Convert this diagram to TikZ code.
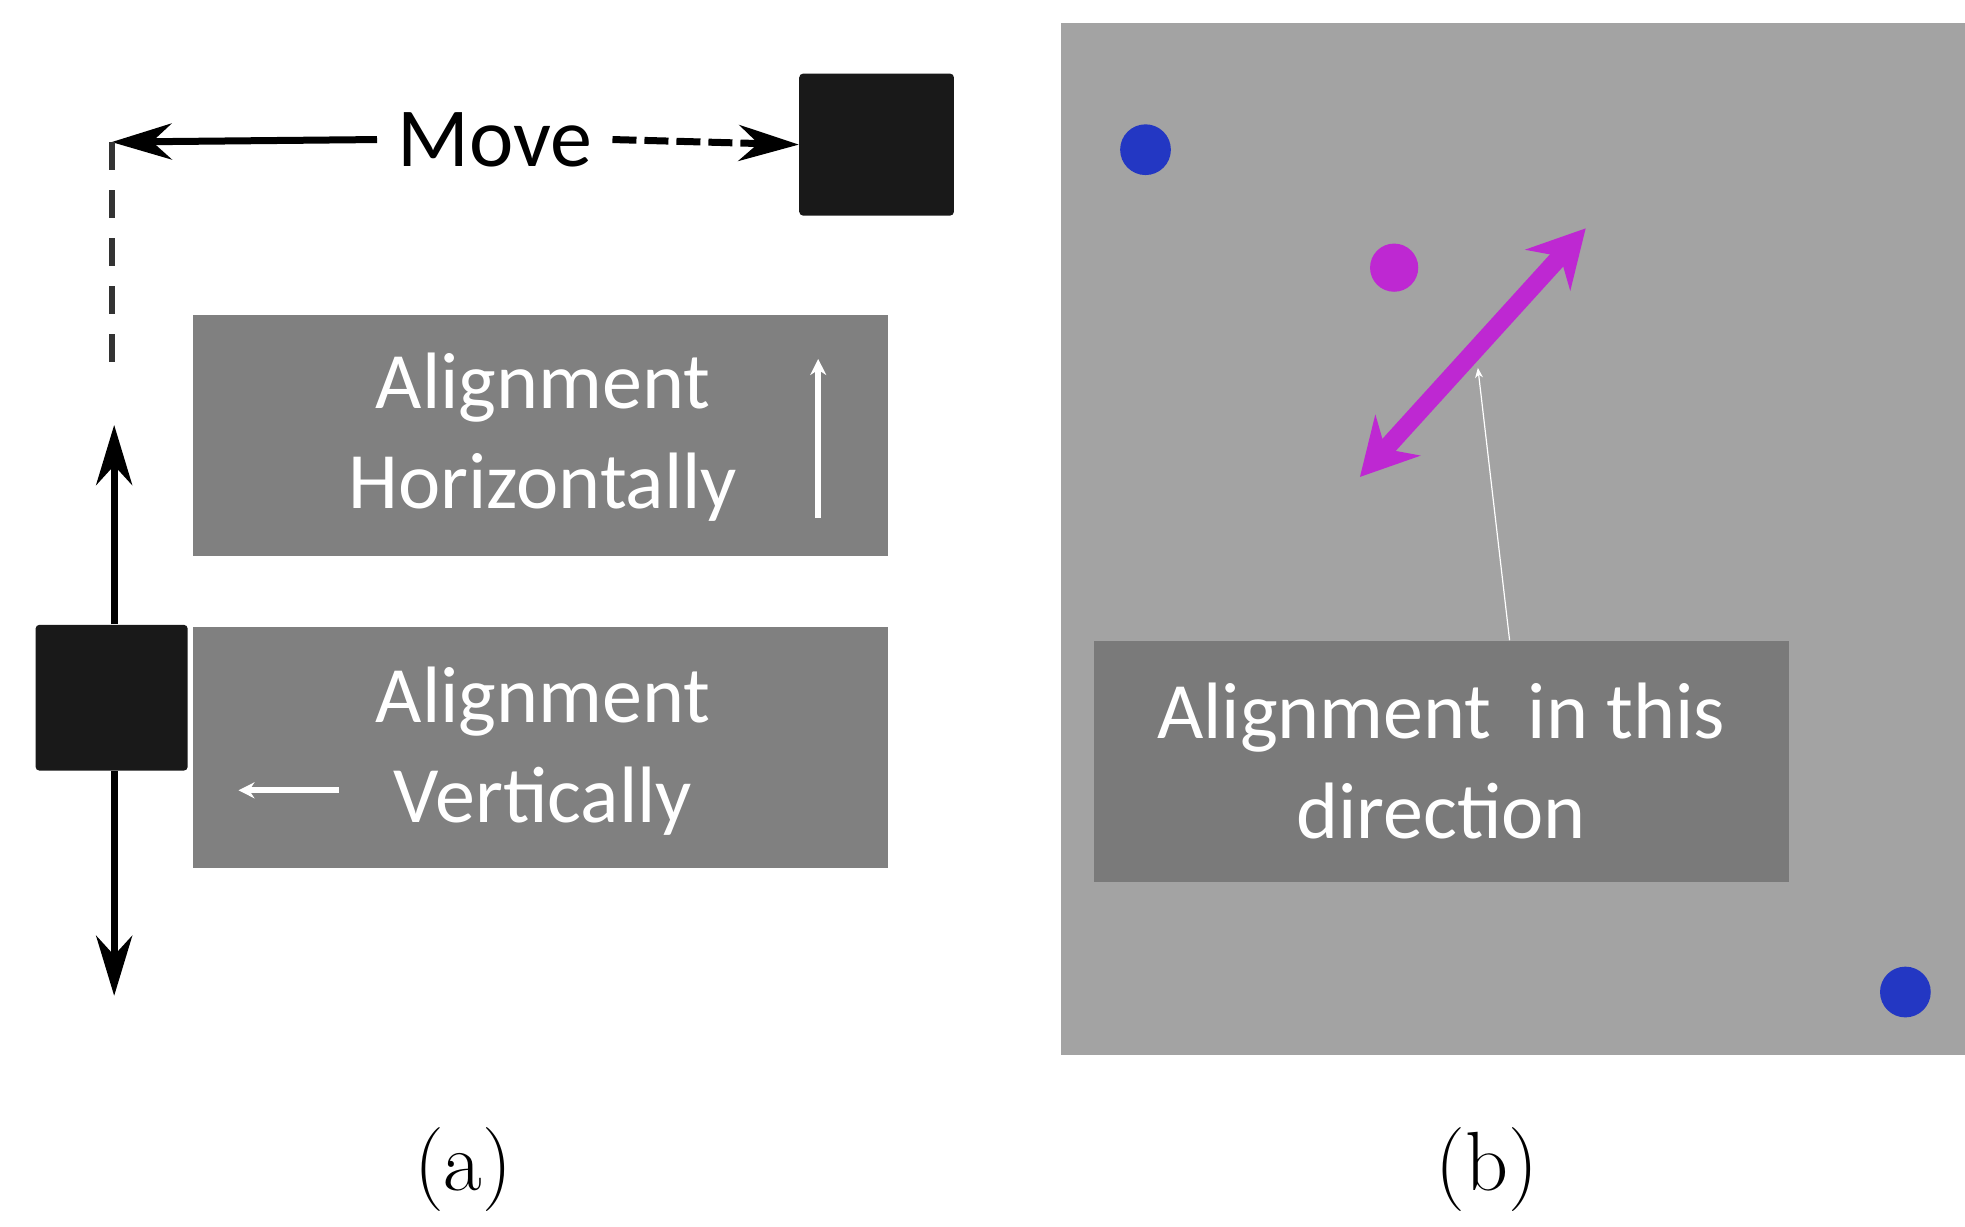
\documentclass[tikz,border=0pt]{standalone}
\usepackage{fontspec}
\setmainfont{Latin Modern Roman}
\newfontfamily\sansf{Carlito}
\usetikzlibrary{arrows.meta}
\definecolor{mag}{RGB}{190,40,210}
\definecolor{dotb}{RGB}{35,55,195}
\begin{document}
\begin{tikzpicture}[x=0.6343pt,y=-0.6343pt,
  blk/.style={fill=black!90,rounded corners=2pt},
  gbox/.style={fill=black!50,draw=none},
  lbl/.style={text=white,font=\sansf\fontsize{40}{50}\selectfont,align=center},
  barr/.style={line width=3.5pt,-{Stealth[length=30pt,width=18pt]}},
  warr/.style={white,line width=3pt,-{Stealth[length=8pt,width=8pt]}}]
\useasboundingbox (0,0) rectangle (1549,967);
\fill[white] (0,0) rectangle (1549,967);
% left panel
\node[blk,minimum width=122*0.6343pt,minimum height=112*0.6343pt] (sq1) at (691,114) {};
\node[blk,minimum width=120*0.6343pt,minimum height=115*0.6343pt] (sq2) at (88,550) {};
\node[font=\sansf\fontsize{42}{50}\selectfont,inner sep=10pt] (move) at (390,110) {Move};
\coordinate (lt) at (88,112);
\coordinate (up) at (90,335);
\coordinate (dn) at (90,785);
\draw[barr] (move.west) -- (lt);
\draw[barr,dash pattern=on 12pt off 4pt] (move.east) -- (sq1.west);
\draw[black!80,line width=3pt,dash pattern=on 14pt off 10pt] (lt) -- (88,300);
\draw[barr] (sq2.north-|up) -- (up);
\draw[barr] (sq2.south-|dn) -- (dn);
\node[gbox,minimum width=548*0.6343pt,minimum height=190*0.6343pt] (b1) at (426,343) {};
\node[lbl] (t1) at (428,345) {Alignment\\Horizontally};
\coordinate (h1) at (645,283); \coordinate (h0) at (645,408);
\draw[warr] (h0) -- (h1);
\node[gbox,minimum width=548*0.6343pt,minimum height=190*0.6343pt] (b2) at (426,589) {};
\node[lbl] (t2) at (428,592) {Alignment\\Vertically};
\coordinate (v0) at (267,623); \coordinate (v1) at (188,623);
\draw[warr] (v0) -- (v1);
% right panel
\fill[black!36] (836,18) rectangle (1549,832);
\fill[dotb] (903,118) circle (20);
\fill[dotb] (1502,782) circle (20);
\fill[mag] (1099,211) circle (19);
\coordinate (m0) at (1072,376); \coordinate (m1) at (1250,180);
\draw[mag,line width=9pt,{Stealth[length=28pt,width=30pt]}-{Stealth[length=28pt,width=30pt]}] (m0) -- (m1);
\node[gbox,fill=black!52,minimum width=548*0.6343pt,minimum height=190*0.6343pt] (b3) at (1136,600) {};
\node[lbl] (t3) at (1136,600) {Alignment\ \ in this\\direction};
\coordinate (p1) at (1165,290);
\draw[white,line width=0.6pt,-{Stealth[length=5pt,width=4pt]}] (b3.north-|1190,0) -- (p1);
% captions
\node[font=\fontsize{42}{50}\selectfont] (ca) at (365,922) {(a)};
\node[font=\fontsize{42}{50}\selectfont] (cb) at (1172,922) {(b)};
\end{tikzpicture}
\end{document}
